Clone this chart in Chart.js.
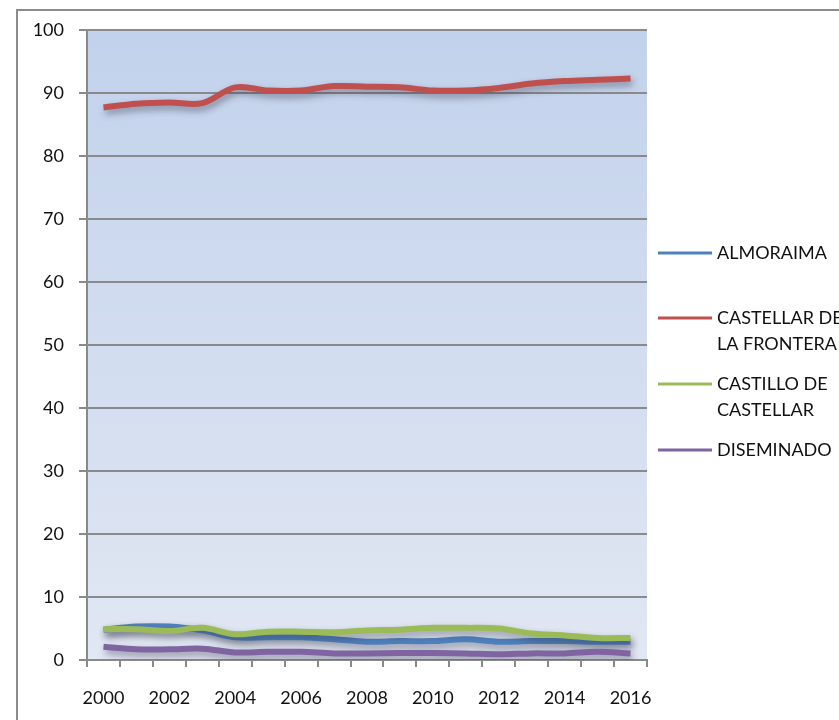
<!DOCTYPE html>
<html>
<head>
<meta charset="utf-8">
<script src="https://cdn.jsdelivr.net/npm/chart.js@4"></script>
<style>
  html, body { margin: 0; padding: 0; background: #fff; }
  #wrap { position: relative; width: 839px; height: 720px; overflow: hidden; }
  #frame { position: absolute; left: 16px; top: 9px; width: 1000px; height: 1000px;
           border-left: 2px solid #8c8c8c; border-top: 2px solid #8c8c8c; }
  #chart { position: absolute; left: 0; top: 0; }
</style>
</head>
<body>
<div id="wrap">
  <div id="frame"></div>
  <canvas id="chart" width="839" height="720"></canvas>
</div>
<script>
(function () {
  "use strict";

  // ── Datos ────────────────────────────────────────────────────────────────
  const years = ["2000","2001","2002","2003","2004","2005","2006","2007","2008",
                 "2009","2010","2011","2012","2013","2014","2015","2016"];

  const almoraima  = [4.8, 5.3, 5.3, 4.7, 3.6, 3.6, 3.6, 3.3, 2.9, 3.0, 3.0, 3.3, 2.9, 3.0, 3.0, 2.9, 2.9];
  const castellar  = [87.7, 88.3, 88.5, 88.4, 90.9, 90.4, 90.4, 91.1, 91.0, 90.9, 90.4, 90.4, 90.8, 91.5, 91.9, 92.1, 92.3];
  const castillo   = [4.9, 4.9, 4.6, 5.1, 4.1, 4.5, 4.5, 4.4, 4.7, 4.8, 5.1, 5.1, 5.0, 4.2, 3.9, 3.5, 3.5];
  const diseminado = [2.1, 1.7, 1.7, 1.8, 1.2, 1.3, 1.3, 1.05, 1.05, 1.1, 1.1, 1.05, 0.9, 1.05, 1.05, 1.3, 1.05];

  const yTicks = [0, 10, 20, 30, 40, 50, 60, 70, 80, 90, 100];

  const series = [
    { label: ["ALMORAIMA"],                  data: almoraima,  color: "#4f81bd" },
    { label: ["CASTELLAR DE", "LA FRONTERA"], data: castellar,  color: "#c0504d" },
    { label: ["CASTILLO DE", "CASTELLAR"],    data: castillo,   color: "#9bbb59" },
    { label: ["DISEMINADO"],                 data: diseminado, color: "#8064a2" },
  ];

  const GRID = "#8a8a8a";
  const FONT = "Lato, 'Open Sans', sans-serif";

  // ── Fondo degradado del área de trazado ──────────────────────────────────
  const plotBg = {
    id: "plotBg",
    beforeDraw(chart) {
      const { ctx, chartArea: a } = chart;
      const g = ctx.createLinearGradient(0, a.top, 0, a.bottom);
      g.addColorStop(0, "#c2d2ec");
      g.addColorStop(1, "#e1e7f3");
      ctx.save();
      ctx.fillStyle = g;
      ctx.fillRect(a.left, a.top, a.right - a.left, a.bottom - a.top);
      ctx.restore();
    },
  };

  // ── Sombra de las líneas ─────────────────────────────────────────────────
  const lineShadow = {
    id: "lineShadow",
    beforeDatasetsDraw(chart) {
      const ctx = chart.ctx;
      ctx.save();
      ctx.shadowColor = "rgba(40,40,60,0.45)";
      ctx.shadowBlur = 7;
      ctx.shadowOffsetX = 2;
      ctx.shadowOffsetY = 4;
    },
    afterDatasetsDraw(chart) {
      chart.ctx.restore();
    },
  };

  // ── Leyenda a la derecha (texto en dos líneas) ───────────────────────────
  const sideLegend = {
    id: "sideLegend",
    afterDraw(chart) {
      const ctx = chart.ctx;
      const rows = [253, 318, 384, 450];
      ctx.save();
      ctx.font = "18px " + FONT;
      ctx.textBaseline = "middle";
      ctx.textAlign = "left";
      series.forEach((s, i) => {
        const y = rows[i];
        ctx.strokeStyle = s.color;
        ctx.lineWidth = 3;
        ctx.beginPath();
        ctx.moveTo(658, y);
        ctx.lineTo(712, y);
        ctx.stroke();
        ctx.fillStyle = "#111";
        s.label.forEach((t, k) => ctx.fillText(t, 717, y + k * 26));
      });
      ctx.restore();
    },
  };

  new Chart(document.getElementById("chart"), {
    type: "line",
    data: {
      labels: years,
      datasets: series.map((s, i) => ({
        label: s.label.join(" "),
        data: s.data,
        borderColor: s.color,
        backgroundColor: s.color,
        borderWidth: 6,
        pointRadius: 0,
        tension: 0.35,
        fill: false,
        order: series.length - i,
      })),
    },
    options: {
      responsive: false,
      devicePixelRatio: 1,
      animation: false,
      layout: { padding: { top: 30, right: 192, left: 0, bottom: 0 } },
      plugins: {
        legend: { display: false },
        tooltip: { enabled: false },
      },
      scales: {
        x: {
          offset: true,
          grid: { offset: true, drawOnChartArea: false, drawTicks: true, tickLength: 7, color: GRID, lineWidth: 2 },
          border: { color: GRID, width: 2 },
          ticks: {
            autoSkip: false,
            maxRotation: 0,
            padding: 20,
            color: "#111",
            font: { family: FONT, size: 18 },
            callback: (v, i) => (i % 2 === 0 ? years[i] : ""),
          },
          afterFit: (scale) => { scale.height = 60; },
        },
        y: {
          min: 0,
          max: 100,
          afterBuildTicks: (scale) => { scale.ticks = yTicks.map(v => ({ value: v })); },
          grid: { color: GRID, lineWidth: 2, tickLength: 8 },
          border: { color: GRID, width: 2 },
          ticks: {
            padding: 15,
            color: "#111",
            font: { family: FONT, size: 18 },
          },
          afterFit: (scale) => { scale.width = 87; },
        },
      },
    },
    plugins: [plotBg, lineShadow, sideLegend],
  });
})();
</script>
</body>
</html>
